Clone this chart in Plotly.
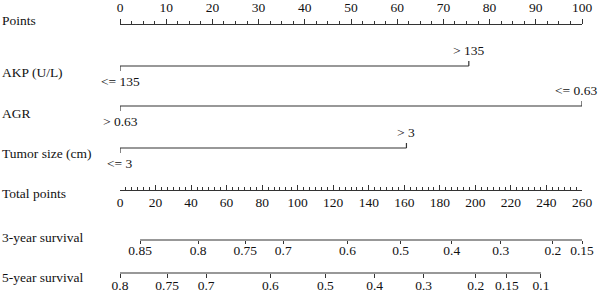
import plotly.graph_objects as go

# ---- data ----
row_labels = ["Points", "AKP (U/L)", "AGR", "Tumor size (cm)", "Total points",
              "3-year survival", "5-year survival"]

akp_levels = ["<= 135", "> 135"]
akp_points = [0, 75.5]
agr_levels = ["> 0.63", "<= 0.63"]
agr_points = [0, 100]
tumor_levels = ["<= 3", "> 3"]
tumor_points = [0, 62]

surv3_labels = ["0.85", "0.8", "0.75", "0.7", "0.6", "0.5", "0.4", "0.3", "0.2", "0.15"]
surv3_total = [11.3, 44.0, 70.5, 91.9, 128.0, 157.9, 186.7, 214.3, 243.6, 260.0]
surv5_labels = ["0.8", "0.75", "0.7", "0.6", "0.5", "0.4", "0.3", "0.2", "0.15", "0.1"]
surv5_total = [0.0, 26.5, 48.5, 84.6, 115.6, 143.3, 170.9, 200.2, 217.7, 236.9]

# ---- layout constants ----
W, H = 600, 297
FONT = "Liberation Serif"
LC = "#333333"
TC = "#111111"
FS = 13.5
x0, x1 = 120, 582
dom = [x0 / W, x1 / W]
row_y = [24, 66, 106, 148, 190, 240, 273]
label_y = [20, 72, 113, 153, 193, 237, 277]

fig = go.Figure()
annotations = []

def seg(xs, ys, xaxis="x"):
    fig.add_trace(go.Scatter(x=xs, y=ys, mode="lines", xaxis=xaxis, yaxis="y",
                             line=dict(color=LC, width=1.2), hoverinfo="skip",
                             showlegend=False))

# variable rows
for (levels, pts), yy in zip([(akp_levels, akp_points), (agr_levels, agr_points),
                              (tumor_levels, tumor_points)], row_y[1:4]):
    seg([min(pts), max(pts)], [yy, yy])
    for i, (lv, p) in enumerate(zip(levels, pts)):
        d = 5 if i == 0 else -5
        seg([p, p], [yy, yy + d])
        at_edge = p >= 100
        annotations.append(dict(x=p, y=yy + (15 if i == 0 else -16), xref="x", yref="y",
                                text=lv, showarrow=False,
                                xanchor="right" if at_edge else "center",
                                xshift=17 if at_edge else 0, yanchor="middle",
                                font=dict(family=FONT, size=FS, color=TC)))

# survival axis lines
seg([min(surv3_total), max(surv3_total)], [row_y[5], row_y[5]], xaxis="x2")
seg([min(surv5_total), max(surv5_total)], [row_y[6], row_y[6]], xaxis="x2")

# invisible traces to instantiate overlay axes
for ax in ["x3", "x4"]:
    fig.add_trace(go.Scatter(x=[0, 260], y=[None, None], xaxis=ax, yaxis="y",
                             mode="markers", showlegend=False, hoverinfo="skip"))

# row labels
for lab, yy in zip(row_labels, label_y):
    annotations.append(dict(x=0, y=yy, xref="paper", yref="y", text=lab, showarrow=False,
                            xanchor="left", yanchor="middle",
                            font=dict(family=FONT, size=FS, color=TC)))

tickfont = dict(family=FONT, size=FS, color=TC)
common = dict(automargin=False, showgrid=False, zeroline=False, tickfont=tickfont,
              tickcolor=LC, tickwidth=1.2)
fig.update_layout(
    width=W, height=H, margin=dict(l=0, r=0, t=0, b=0, autoexpand=False),
    paper_bgcolor="white", plot_bgcolor="white",
    showlegend=False,
    yaxis=dict(range=[H, 0], domain=[0, 1], visible=False, fixedrange=True, automargin=False),
    xaxis=dict(range=[0, 100], domain=dom, anchor="free", position=1 - row_y[0] / H,
               side="top", showline=True, linecolor=LC, linewidth=1.2,
               ticks="outside", ticklen=5, tick0=0, dtick=10, ticklabelstandoff=2,
               minor=dict(ticks="outside", ticklen=2.5, dtick=2.5, tickcolor=LC, showgrid=False),
               **common),
    xaxis2=dict(range=[0, 260], domain=dom, anchor="free", overlaying="x",
                position=1 - row_y[4] / H, side="bottom", showline=True, linecolor=LC,
                linewidth=1.2, ticks="inside", ticklen=5, tick0=0, dtick=20,
                minor=dict(ticks="inside", ticklen=2.5, dtick=20 / 6, tickcolor=LC, showgrid=False),
                **common),
    xaxis3=dict(range=[0, 260], domain=dom, anchor="free", overlaying="x",
                position=1 - row_y[5] / H, side="bottom", showline=False,
                ticks="outside", ticklen=3, ticklabelstandoff=-5,
                tickmode="array", tickvals=surv3_total, ticktext=surv3_labels, **common),
    xaxis4=dict(range=[0, 260], domain=dom, anchor="free", overlaying="x",
                position=1 - row_y[6] / H, side="bottom", showline=False,
                ticks="outside", ticklen=4, ticklabelstandoff=-4,
                tickmode="array", tickvals=surv5_total, ticktext=surv5_labels, **common),
    annotations=annotations,
)

fig.write_html("out.html")
